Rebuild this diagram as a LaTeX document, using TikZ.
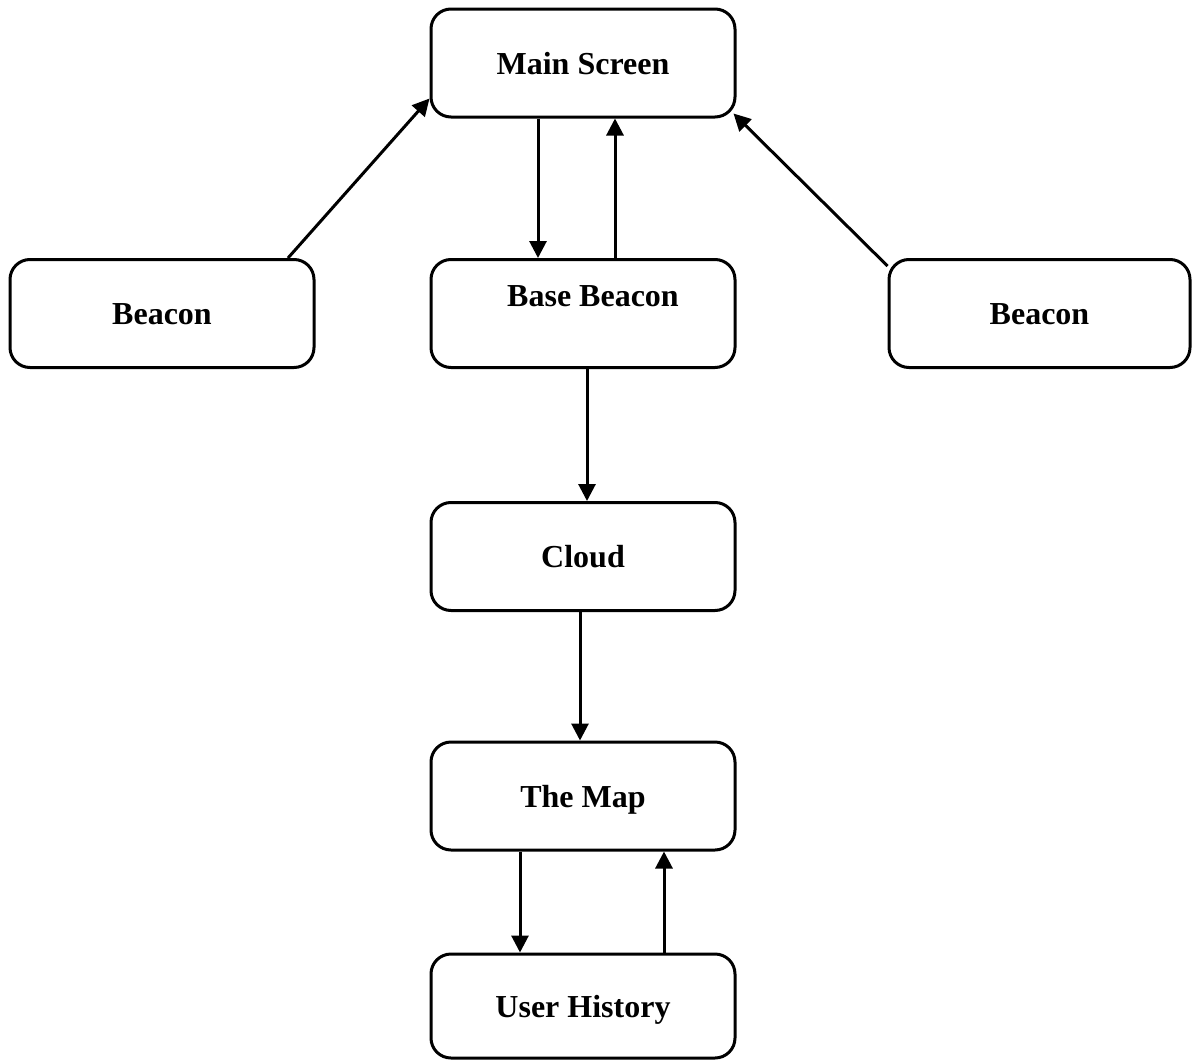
\documentclass[tikz,border=0pt]{standalone}
\usepackage{fontspec}
\setmainfont{Liberation Serif}
\usetikzlibrary{arrows.meta}
\begin{document}
\begin{tikzpicture}[x=1pt,y=-1pt,
  lbl/.style={font=\fontsize{32}{38}\selectfont\bfseries,text height=22pt,text depth=0pt,inner sep=0pt},
  box/.style={lbl,draw=black,line width=3pt,rounded corners=20pt,minimum width=304pt,minimum height=108pt,fill=white},
  arr/.style={line width=3pt,-{Triangle[length=17pt,width=17pt]}}]
\useasboundingbox[fill=white] (0,0) rectangle (1192,1060);
\node[box] (ms) at (583,63) {Main Screen};
\node[box] (lb) at (162,313.5) {Beacon};
\node[box] (bb) at (583,313.5) {};
\node[lbl] (bbt) at (593,295) {Base Beacon};
\node[box,minimum width=301pt] (rb) at (1039.5,313.5) {Beacon};
\node[box] (cl) at (583,556.5) {Cloud};
\node[box] (map) at (583,796) {The Map};
\node[box,minimum height=104pt] (uh) at (583,1006) {User History};
\draw[arr] ([xshift=126pt]lb.north) -- ([yshift=20pt]ms.south west);
\draw[arr] ([yshift=-8pt]rb.north west) -- ([xshift=-3pt,yshift=5pt]ms.south east);
\draw[arr] ([xshift=-45pt]ms.south) -- ([xshift=-45pt]bb.north);
\draw[arr] ([xshift=32pt]bb.north) -- ([xshift=32pt]ms.south);
\draw[arr] ([xshift=4pt]bb.south) -- ([xshift=4pt]cl.north);
\draw[arr] ([xshift=-3pt]cl.south) -- ([xshift=-3pt]map.north);
\draw[arr] ([xshift=-63pt]map.south) -- ([xshift=-63pt]uh.north);
\draw[arr] ([xshift=81pt]uh.north) -- ([xshift=81pt]map.south);
\end{tikzpicture}
\end{document}
